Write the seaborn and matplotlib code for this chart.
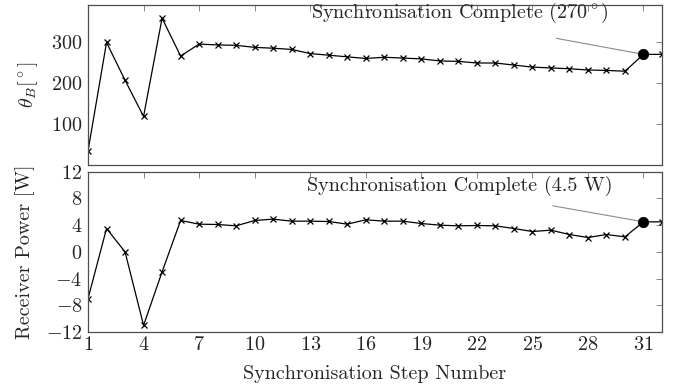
import matplotlib
matplotlib.use("Agg")
import matplotlib.pyplot as plt
import seaborn as sns
import pandas as pd

steps = list(range(1, 33))
theta_b = [35, 299, 207, 119, 358, 266, 295, 293, 292, 287, 285, 282, 272, 268, 264, 260,
           263, 261, 259, 254, 253, 249, 249, 244, 239, 237, 235, 232, 231, 229, 270, 270]
power = [-7.0, 3.5, 0.0, -11.0, -3.0, 4.7, 4.15, 4.1, 3.9, 4.7, 4.9, 4.6, 4.6, 4.55, 4.15, 4.8,
         4.6, 4.6, 4.25, 4.0, 3.9, 3.95, 3.9, 3.5, 3.05, 3.25, 2.6, 2.15, 2.6, 2.25, 4.5, 4.5]
sync_step = 31
sync_theta = 270
sync_power = 4.5
xticks = list(range(1, 32, 3))
theta_ticks = [100, 200, 300]
power_ticks = [-12, -8, -4, 0, 4, 8, 12]
label_theta = r"Synchronisation Complete (270$^\circ$)"
label_power = "Synchronisation Complete (4.5 W)"

FS = 14.5

sns.set_theme(style="white")
plt.rcParams.update({
    "font.family": ["serif"],
    "font.serif": ["cmr10", "DejaVu Serif"],
    "mathtext.fontset": "cm",
    "axes.formatter.use_mathtext": True,
    "font.size": FS,
    "axes.unicode_minus": True,
})

df = pd.DataFrame({"step": steps, "theta": theta_b, "power": power})

fig, (ax1, ax2) = plt.subplots(2, 1, sharex=True, figsize=(6.75, 3.89), dpi=100)
fig.subplots_adjust(left=0.1304, right=0.9807, top=0.987, bottom=0.1465, hspace=0.04)

for ax, col in ((ax1, "theta"), (ax2, "power")):
    sns.lineplot(data=df, x="step", y=col, ax=ax, color="black", linewidth=0.9,
                 marker="x", markersize=5, markeredgecolor="black", markeredgewidth=0.9)

sns.scatterplot(x=[sync_step], y=[sync_theta], ax=ax1, color="black", s=55, zorder=5, edgecolor="black")
sns.scatterplot(x=[sync_step], y=[sync_power], ax=ax2, color="black", s=55, zorder=5, edgecolor="black")

ax1.set_xlim(1, 32)
ax1.set_ylim(0, 390)
ax2.set_ylim(-12, 12)
ax1.set_yticks(theta_ticks)
ax2.set_yticks(power_ticks)
ax2.set_xticks(xticks)

for ax in (ax1, ax2):
    ax.tick_params(direction="in", top=True, right=True, length=4, width=0.6,
                   color="0.45", labelsize=FS)
    ax.tick_params(axis="y", pad=4)
    ax.tick_params(axis="x", pad=3)
    for sp in ax.spines.values():
        sp.set_color("0.3")
        sp.set_linewidth(0.9)
    ax.set_xlabel("")
ax1.tick_params(labelbottom=False)

ax1.set_ylabel(r"$\theta_B[^\circ]$", fontsize=FS)
ax2.set_ylabel("Receiver Power [W]", fontsize=FS)
ax1.yaxis.set_label_coords(-0.084, 0.5)
ax2.yaxis.set_label_coords(-0.092, 0.5)
ax2.set_xlabel("Synchronisation Step Number", fontsize=FS, labelpad=8)

# annotations
ax1.text(21.1, 370, label_theta, ha="center", va="center", fontsize=FS)
ax1.annotate("", xy=(sync_step, sync_theta), xytext=(26.3, 309),
             arrowprops=dict(arrowstyle="-", color="0.55", lw=0.8, shrinkA=0, shrinkB=4))
ax2.text(21.1, 9.9, label_power, ha="center", va="center", fontsize=FS)
ax2.annotate("", xy=(sync_step, sync_power), xytext=(26.1, 6.9),
             arrowprops=dict(arrowstyle="-", color="0.55", lw=0.8, shrinkA=0, shrinkB=4))

fig.savefig("out.png", dpi=100)
